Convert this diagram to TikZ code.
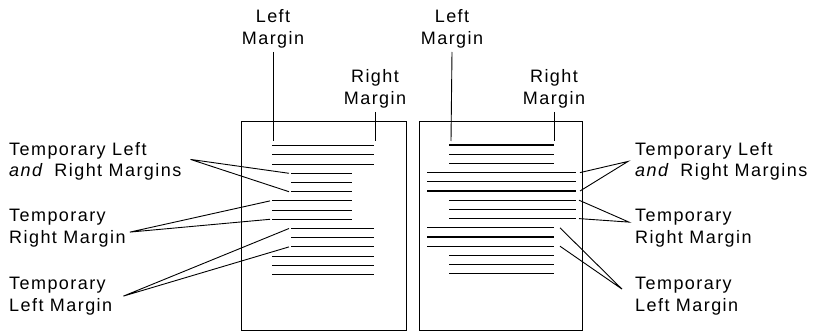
\documentclass[tikz,border=0pt]{standalone}
\usepackage{fontspec}
\setmainfont{Liberation Sans}[LetterSpace=8.0]
\usetikzlibrary{positioning}
\tikzset{
	lbl/.style={font=\fontsize{18}{21.7}\selectfont, inner sep=0pt}, % texto de las etiquetas
	page/.style={draw, line width=0.9pt}, % borde de la hoja
	textline/.style={line width=1.1pt}, % renglones
	pointer/.style={line width=0.9pt} % lineas indicadoras
}
\begin{document}
\begin{tikzpicture}[x=1pt, y=-1pt]
	\useasboundingbox (0,0) rectangle (817,331);
	% hojas
	\draw[page] (241.5,330) -- (241.5,121.7) -- (406.5,121.7) -- (406.5,330) -- cycle;
	\draw[page] (419.3,330) -- (419.3,121.7) -- (582.7,121.7) -- (582.7,330) -- cycle;
	% renglones
	\foreach \i/\a/\b [evaluate=\i as \y using 145.7+(\i-1)*9.2] in
		{1/272/374, 2/272/374, 3/272/374, 4/291/352, 5/291/352, 6/291/352,
		 7/272/352, 8/272/352, 9/272/352, 10/291/374, 11/291/374, 12/291/374,
		 13/272/374, 14/272/374, 15/272/374}
		\draw[textline] (\a,\y) coordinate (la\i) -- (\b,\y) coordinate (lb\i);
	\foreach \i/\a/\b [evaluate=\i as \y using 145+(\i-1)*9.2] in
		{1/449/554, 2/449/554, 3/449/554, 4/427/576, 5/427/576, 6/427/576,
		 7/449/576, 8/449/576, 9/449/576, 10/427/554, 11/427/554, 12/427/554,
		 13/449/554, 14/449/554, 15/449/554}
		\draw[textline] (\a,\y) coordinate (ra\i) -- (\b,\y) coordinate (rb\i);
	% margenes de arriba
	\node[lbl, align=center, anchor=south] (lm1) at (273,48) {Left\\Margin};
	\node[lbl, align=center, anchor=south] (rm1) at (375,108) {Right\\Margin};
	\node[lbl, align=center, anchor=south] (lm2) at (452,48) {Left\\Margin};
	\node[lbl, align=center, anchor=south] (rm2) at (554,108) {Right\\Margin};
	\coordinate (lt1) at (273,141);
	\coordinate (rt1) at (375,141);
	\coordinate (lt2) at (451,141);
	\coordinate (rt2) at (554,141);
	\draw[pointer] ([yshift=-4pt]lm1.south) -- (lt1);
	\draw[pointer] ([yshift=-4pt]rm1.south) -- (rt1);
	\draw[pointer] ([yshift=-4pt]lm2.south) -- (lt2);
	\draw[pointer] ([yshift=-4pt]rm2.south) -- (rt2);
	% etiquetas de la izquierda
	\node[lbl, align=left, anchor=north west] (tl1) at (9,142) {Temporary Left\\\textit{and}\hspace{4pt} Right Margins};
	\node[lbl, align=left, anchor=north west] (tl2) at (9,209) {Temporary\\Right Margin};
	\node[lbl, align=left, anchor=north west] (tl3) at (9,277) {Temporary\\Left Margin};
	% etiquetas de la derecha
	\node[lbl, align=left, anchor=north west] (tr1) at (635,142) {Temporary Left\\\textit{and}\hspace{4pt} Right Margins};
	\node[lbl, align=left, anchor=north west] (tr2) at (635,209) {Temporary\\Right Margin};
	\node[lbl, align=left, anchor=north west] (tr3) at (635,277) {Temporary\\Left Margin};
	% lineas indicadoras
	\coordinate (pl1) at ([xshift=9pt, yshift=2pt]tl1.east);
	\coordinate (pl2) at ([xshift=4pt, yshift=-4pt]tl2.east);
	\coordinate (pl3) at ([xshift=11pt]tl3.east);
	\coordinate (pr1) at ([xshift=-7pt]tr1.west);
	\coordinate (pr2) at ([xshift=-6pt, yshift=6pt]tr2.west);
	\coordinate (pr3) at ([xshift=-13pt, yshift=7pt]tr3.west);
	\draw[pointer] ([xshift=-2pt]la4) -- (pl1) -- ([xshift=-2pt]la6);
	\draw[pointer] ([xshift=-2pt]la7) -- (pl2) -- ([xshift=-2pt]la9);
	\draw[pointer] ([xshift=-2pt]la10) -- (pl3) -- ([xshift=-2pt]la12);
	\draw[pointer] ([xshift=4pt]rb4) -- (pr1) -- ([xshift=4pt]rb6);
	\draw[pointer] ([xshift=3pt]rb7) -- (pr2) -- ([xshift=3pt]rb9);
	\draw[pointer] ([xshift=6pt]rb10) -- (pr3) -- ([xshift=6pt]rb12);
\end{tikzpicture}
\end{document}
